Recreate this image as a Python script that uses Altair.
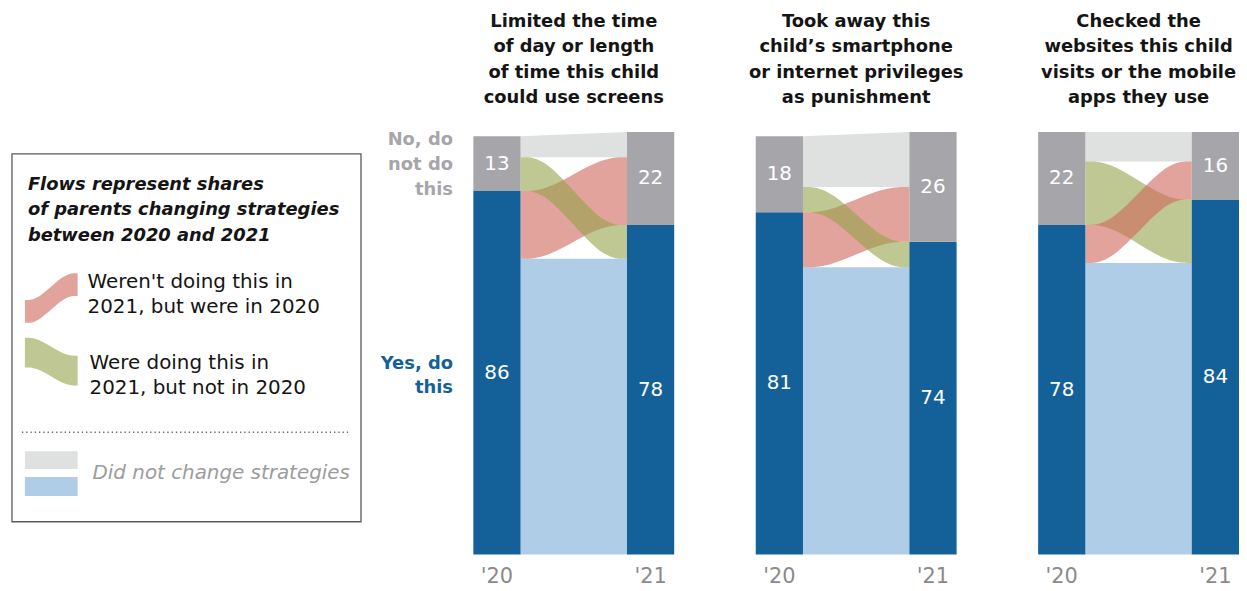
import altair as alt
import pandas as pd

# ---------------- data ----------------
titles = [
    ["Limited the time", "of day or length", "of time this child", "could use screens"],
    ["Took away this", "child\u2019s smartphone", "or internet privileges", "as punishment"],
    ["Checked the", "websites this child", "visits or the mobile", "apps they use"],
]
years = ["'20", "'21"]
yes_2020 = [86, 81, 78]
no_2020 = [13, 18, 22]
yes_2021 = [78, 74, 84]
no_2021 = [22, 26, 16]
stayed_yes = [70, 68, 69]   # did this in both years
stopped = [16, 13, 9]       # did this in 2020, not in 2021
started = [8, 6, 15]        # did this in 2021, not in 2020

legend_title = ["Flows represent shares", "of parents changing strategies", "between 2020 and 2021"]
legend_stopped = ["Weren't doing this in", "2021, but were in 2020"]
legend_started = ["Were doing this in", "2021, but not in 2020"]
legend_same = ["Did not change strategies"]
no_label = ["No, do", "not do", "this"]
yes_label = ["Yes, do", "this"]

# ---------------- layout & style ----------------
FONT = "DejaVu Sans"
PANEL_W = 202
BAR_W = 47.5
PLOT_H = 425
GAP = 82
LEG_W = 386

C_YES = "#14619a"
C_NO = "#a6a6aa"
C_SAME_NO = "#dfe0e0"
C_SAME_YES = "#afcde6"
C_STOP = "#d0665c"
C_START = "#94a249"
FLOW_OP = 0.6
C_TEXT = "#141414"
C_YEAR = "#8a8a8a"
C_NOTE = "#9c9c9c"


def px(field):
    return alt.X(field, type="quantitative",
                 scale=alt.Scale(domain=[0, PANEL_W], nice=False, zero=False), axis=None)


def py(field):
    return alt.Y(field, type="quantitative", stack=None,
                 scale=alt.Scale(domain=[0, 100], nice=False, zero=False), axis=None)


def band(df, color, interp="linear", opacity=1.0):
    return alt.Chart(df).mark_area(interpolate=interp, color=color, opacity=opacity).encode(
        x=px("x"), y=py("lo"), y2="hi:Q")


def panel(i):
    x0, x1 = BAR_W, PANEL_W - BAR_W
    c = (x1 - x0) / 4
    y20, n20, y21, n21 = yes_2020[i], no_2020[i], yes_2021[i], no_2021[i]
    sy, st, sa = stayed_yes[i], stopped[i], started[i]

    bars = pd.DataFrame({
        "xa": [0, 0, x1, x1],
        "xb": [x0, x0, PANEL_W, PANEL_W],
        "lo": [0, y20, 0, y21],
        "hi": [y20, y20 + n20, y21, y21 + n21],
        "val": [y20, n20, y21, n21],
        "seg": ["Yes", "No", "Yes", "No"],
    })
    bars["mid"] = (bars["lo"] + bars["hi"]) / 2
    bars["xc"] = (bars["xa"] + bars["xb"]) / 2

    same_yes = pd.DataFrame({"x": [x0, x1], "lo": [0, 0], "hi": [sy, sy]})
    same_no = pd.DataFrame({"x": [x0, x1], "lo": [sy + st + sa] * 2, "hi": [y20 + n20, y21 + n21]})
    ctrl_x = [x0, x0 + c, x1 - c, x1]
    stop = pd.DataFrame({"x": ctrl_x, "lo": [sy, sy, sy + sa, sy + sa]})
    stop["hi"] = stop["lo"] + st
    start = pd.DataFrame({"x": ctrl_x, "lo": [sy + st, sy + st, sy, sy]})
    start["hi"] = start["lo"] + sa

    stop_layer = band(stop, C_STOP, "basis", FLOW_OP)
    start_layer = band(start, C_START, "basis", FLOW_OP)
    flows = [stop_layer, start_layer] if st >= sa else [start_layer, stop_layer]

    yes_bars = alt.Chart(bars).transform_filter(alt.datum.seg == "Yes").mark_rect(color=C_YES).encode(
        x=px("xa"), x2="xb:Q", y=py("lo"), y2="hi:Q")
    no_bars = alt.Chart(bars).transform_filter(alt.datum.seg == "No").mark_rect(color=C_NO).encode(
        x=px("xa"), x2="xb:Q", y=py("lo"), y2="hi:Q")
    num_layer = alt.Chart(bars).mark_text(font=FONT, fontSize=20, color="white",
                                          align="center", baseline="middle").encode(
        x=px("xc"), y=py("mid"), text="val:Q")

    year_df = pd.DataFrame({"year": years, "xc": [BAR_W / 2, PANEL_W - BAR_W / 2]})
    year_layer = alt.Chart(year_df).mark_text(font=FONT, fontSize=21, color=C_YEAR,
                                              align="center", baseline="top").encode(
        x=px("xc"), y=alt.value(PLOT_H + 12), text="year:N")

    return alt.layer(band(same_yes, C_SAME_YES), band(same_no, C_SAME_NO), *flows,
                     yes_bars, no_bars, num_layer, year_layer).properties(
        width=PANEL_W, height=PLOT_H,
        title=alt.TitleParams(text=titles[i], font=FONT, fontSize=18, fontWeight="bold",
                              color=C_TEXT, lineHeight=25.5, offset=25, anchor="middle"),
    )


# ---------------- legend (pixel-like scales) ----------------
def lx(field):
    return alt.X(field, type="quantitative",
                 scale=alt.Scale(domain=[0, LEG_W], nice=False, zero=False), axis=None)


def ly(field):
    return alt.Y(field, type="quantitative", stack=None,
                 scale=alt.Scale(domain=[0, PLOT_H], nice=False, zero=False, reverse=True), axis=None)


def text_lines(lines, x, y, lh, align="left", **style):
    df = pd.DataFrame({"t": lines, "x": [x] * len(lines),
                       "y": [y + k * lh for k in range(len(lines))]})
    return alt.Chart(df).mark_text(align=align, baseline="alphabetic", font=FONT, **style).encode(
        x=lx("x"), y=ly("y"), text="t:N")


def swatch_wave(x_a, x_b, top_a, top_b, thick, color):
    w = (x_b - x_a) / 4
    df = pd.DataFrame({"x": [x_a, x_a + w, x_b - w, x_b],
                       "lo": [top_a, top_a, top_b, top_b]})
    df["hi"] = df["lo"] + thick
    return alt.Chart(df).mark_area(interpolate="basis", color=color, opacity=FLOW_OP).encode(
        x=lx("x"), y=ly("lo"), y2="hi:Q")


def swatch_rect(x_a, x_b, y_a, y_b, color):
    df = pd.DataFrame({"x": [x_a], "x2": [x_b], "y": [y_a], "y2": [y_b]})
    return alt.Chart(df).mark_rect(color=color).encode(x=lx("x"), x2="x2:Q", y=ly("y"), y2="y2:Q")


box_df = pd.DataFrame({"x": [4], "x2": [355], "y": [22], "y2": [392]})
box = alt.Chart(box_df).mark_rect(fill="white", stroke="#5a5a5a", strokeWidth=1.3).encode(
    x=lx("x"), x2="x2:Q", y=ly("y"), y2="y2:Q")

dots_df = pd.DataFrame({"x": [14], "x2": [342], "y": [302]})
dots = alt.Chart(dots_df).mark_rule(color="#666666", strokeWidth=1.5, strokeDash=[1.3, 3]).encode(
    x=lx("x"), x2="x2:Q", y=ly("y"))

legend = alt.layer(
    box,
    text_lines(legend_title, 20, 58, 26, fontSize=18, fontWeight="bold", fontStyle="italic", color=C_TEXT),
    swatch_wave(17, 70, 169, 142, 23, C_STOP),
    text_lines(legend_stopped, 80, 157, 25.5, fontSize=20, color=C_TEXT),
    swatch_wave(17, 70, 207, 225, 30, C_START),
    text_lines(legend_started, 82, 238, 26, fontSize=20, color=C_TEXT),
    dots,
    swatch_rect(17, 70, 321, 339, C_SAME_NO),
    swatch_rect(17, 70, 347, 366, C_SAME_YES),
    text_lines(legend_same, 85, 349, 26, fontSize=20, fontStyle="italic", color=C_NOTE),
    text_lines(no_label, 447.5, 13, 25, align="right", fontSize=18, fontWeight="bold", color=C_NO),
    text_lines(yes_label, 447.5, 238, 25, align="right", fontSize=18, fontWeight="bold", color=C_YES),
).properties(width=LEG_W, height=PLOT_H)

chart = alt.hconcat(
    legend, panel(0), panel(1), panel(2), spacing=GAP, bounds="flush"
).resolve_scale(
    x="independent", y="independent"
).properties(
    padding={"left": 0, "right": 0, "top": 3, "bottom": 0}
).configure_view(stroke=None)

chart.save("out.html", embed_options={"renderer": "svg", "actions": False})
